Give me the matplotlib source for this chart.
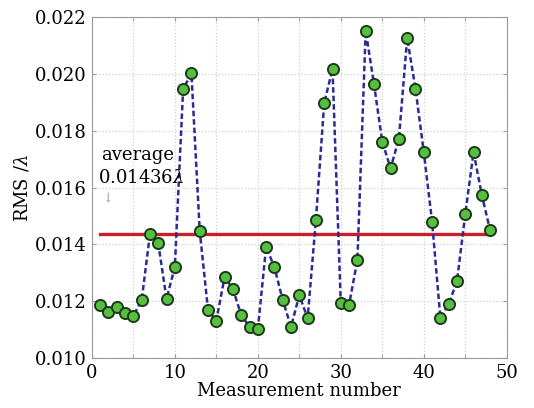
import matplotlib.pyplot as plt

# RMS wavefront error per measurement (units of wavelength)
meas_no = list(range(1, 49))
rms = [0.01187, 0.01161, 0.01181, 0.01157, 0.01149, 0.01203, 0.01435, 0.01404,
       0.01208, 0.01321, 0.01947, 0.02002, 0.01447, 0.01169, 0.01131, 0.01286,
       0.01243, 0.01151, 0.01110, 0.01101, 0.01391, 0.01320, 0.01204, 0.01110,
       0.01221, 0.01140, 0.01486, 0.01898, 0.02017, 0.01192, 0.01188, 0.01345,
       0.02152, 0.01964, 0.01761, 0.01668, 0.01772, 0.02126, 0.01948, 0.01725,
       0.01480, 0.01140, 0.01190, 0.01270, 0.01507, 0.01725, 0.01573, 0.01449]
avg = 0.01436

plt.rcParams['font.family'] = ['DejaVu Serif']
plt.rcParams['mathtext.fontset'] = 'dejavuserif'

fig = plt.figure(figsize=(5.34, 4.08), dpi=100)
ax = fig.add_axes([0.172, 0.1225, 0.777, 0.8355])

ax.plot([meas_no[0], meas_no[-1]], [avg, avg], color='#c8202a', lw=2.4, zorder=2)
ax.plot(meas_no, rms, linestyle=(0, (2.2, 1.2)), color='#2b2b96', lw=1.8,
        marker='o', ms=8, mfc='#55c040', mec='#1e3a1a', mew=1.4, zorder=3)

ax.text(1.1, 0.01714, 'average', fontsize=13, va='center')
ax.text(0.8, 0.01633, '0.01436$\\lambda$', fontsize=13, va='center')
ax.text(1.9, 0.01562, '\u2193', fontsize=9, color='#999999', ha='center', va='center')

ax.set_xlim(0, 50)
ax.set_ylim(0.010, 0.022)
ax.set_xticks(range(0, 51, 10))
ax.set_xticks(range(5, 50, 10), minor=True)
ax.set_yticks([0.010, 0.012, 0.014, 0.016, 0.018, 0.020, 0.022])
ax.set_yticklabels(['0.010', '0.012', '0.014', '0.016', '0.018', '0.020', '0.022'])
ax.grid(True, which='both', color='#d0d0d0', linestyle=':', lw=0.9)
ax.tick_params(which='both', direction='in', length=3, color='#999999', labelsize=13, pad=4)
ax.tick_params(top=True, right=True, which='both')
for s in ax.spines.values():
    s.set_color('#999999')

ax.set_xlabel('Measurement number', fontsize=13, labelpad=0)
ax.set_ylabel('RMS /$\\lambda$', fontsize=13, labelpad=2)

fig.savefig('out.png', dpi=100)
